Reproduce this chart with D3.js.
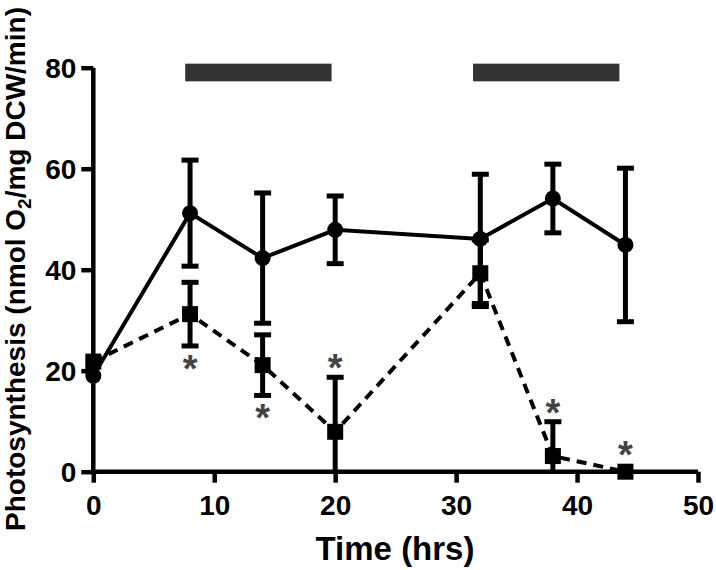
<!DOCTYPE html>
<html><head><meta charset="utf-8">
<script src="https://cdn.jsdelivr.net/npm/d3@7"></script>
<style>body{margin:0;background:#fff}svg{display:block}text{font-family:"Liberation Sans",Arial,sans-serif;font-weight:bold}</style>
</head><body>
<script>
const xTicks = [0,10,20,30,40,50];
const yTicks = [0,20,40,60,80];
const times = [0,8,14,20,32,38,44];
const solidMean = [19,51.2,42.3,47.9,46.1,54.1,44.9];
const solidErr  = [0,10.5,12.9,6.7,12.8,6.8,15.2];
const dashMean  = [21.8,31.2,21.1,7.9,39.3,3.1,0];
const dashErr   = [0,6.3,6.0,10.8,6.6,6.8,0];
const starTimes = [8,14,20,38,44];
const starPos   = ["below","below","above","above","above"];
const darkPeriods = [[7.6,19.7],[31.4,43.5]];

const W=716,H=570;
const svg=d3.select("body").append("svg").attr("width",W).attr("height",H);
const x=d3.scaleLinear().domain([0,50]).range([93.3,698]);
const y=d3.scaleLinear().domain([0,80]).range([471.7,67.7]);

// dark period bars
svg.selectAll("rect.dark").data(darkPeriods).enter().append("rect")
  .attr("x",d=>x(d[0])).attr("width",d=>x(d[1])-x(d[0]))
  .attr("y",y(80.8)).attr("height",y(77.3)-y(80.8)).attr("fill","#333");

// axes
const xa=svg.append("g").attr("transform","translate(0,"+y(0)+")")
  .call(d3.axisBottom(x).tickValues(xTicks).tickSize(11).tickPadding(12).tickSizeOuter(0));
const ya=svg.append("g").attr("transform","translate("+x(0)+",0)")
  .call(d3.axisLeft(y).tickValues(yTicks).tickSize(12).tickPadding(5).tickSizeOuter(0));
[xa,ya].forEach(a=>{
  a.select(".domain").attr("stroke","#000").attr("stroke-width",4.5);
  a.selectAll(".tick line").attr("stroke","#000").attr("stroke-width",4.5);
  a.selectAll(".tick text").attr("fill","#000").style("font-size","28px").style("font-weight","bold").style("font-family","'Liberation Sans',Arial,sans-serif");
});
xa.select(".domain").attr("d","M"+(x(0)-2.25)+",0H"+x(50));
ya.select(".domain").attr("d","M0,"+(y(0)+2.25)+"V"+y(80));
ya.selectAll(".tick text").attr("dy","0.36em");

const solid=times.map((t,i)=>({t,m:solidMean[i],e:solidErr[i]}));
const dash=times.map((t,i)=>({t,m:dashMean[i],e:dashErr[i]}));
const line=d3.line().x(d=>x(d.t)).y(d=>y(d.m));

function errBars(data){
  const g=svg.append("g");
  data.filter(d=>d.e>0).forEach(d=>{
    const lo=Math.max(0,d.m-d.e), hi=d.m+d.e;
    g.append("line").attr("x1",x(d.t)).attr("x2",x(d.t)).attr("y1",y(lo)).attr("y2",y(hi)).attr("stroke","#000").attr("stroke-width",5);
    g.append("line").attr("x1",x(d.t)-8.5).attr("x2",x(d.t)+8.5).attr("y1",y(hi)).attr("y2",y(hi)).attr("stroke","#000").attr("stroke-width",5);
    if(d.m-d.e>0) g.append("line").attr("x1",x(d.t)-8.5).attr("x2",x(d.t)+8.5).attr("y1",y(lo)).attr("y2",y(lo)).attr("stroke","#000").attr("stroke-width",5);
  });
}
errBars(solid); errBars(dash);

svg.append("path").datum(dash).attr("d",line).attr("fill","none").attr("stroke","#000").attr("stroke-width",4).attr("stroke-dasharray","10,7");
svg.append("path").datum(solid).attr("d",line).attr("fill","none").attr("stroke","#000").attr("stroke-width",4);

svg.selectAll("rect.sq").data(dash).enter().append("rect")
  .attr("x",d=>x(d.t)-8).attr("y",d=>y(d.m)-8).attr("width",16).attr("height",16).attr("fill","#000");
svg.selectAll("circle.pt").data(solid).enter().append("circle")
  .attr("cx",d=>x(d.t)).attr("cy",d=>y(d.m)).attr("r",8).attr("fill","#000");

// asterisks
starTimes.forEach((t,i)=>{
  const d=dash.find(v=>v.t===t);
  let yy;
  if(starPos[i]==="below") yy = y(Math.max(0,d.m-d.e))+36;
  else yy = (d.e>0 ? y(d.m+d.e) : y(d.m)-8) + 4;
  svg.append("text").attr("x",x(t)).attr("y",yy).attr("text-anchor","middle")
    .attr("fill","#444").style("font-size","38px").style("font-weight","bold").text("*");
});

// axis titles
svg.append("text").attr("x",395).attr("y",560).attr("text-anchor","middle")
  .style("font-size","33px").text("Time (hrs)");
const yt=svg.append("text").attr("transform","translate(25,269) rotate(-90)").attr("text-anchor","middle").style("font-size","28px");
yt.append("tspan").text("Photosynthesis (nmol O");
yt.append("tspan").attr("dy",6).style("font-size","19px").text("2");
yt.append("tspan").attr("dy",-6).text("/mg DCW/min)");
</script>
</body></html>
